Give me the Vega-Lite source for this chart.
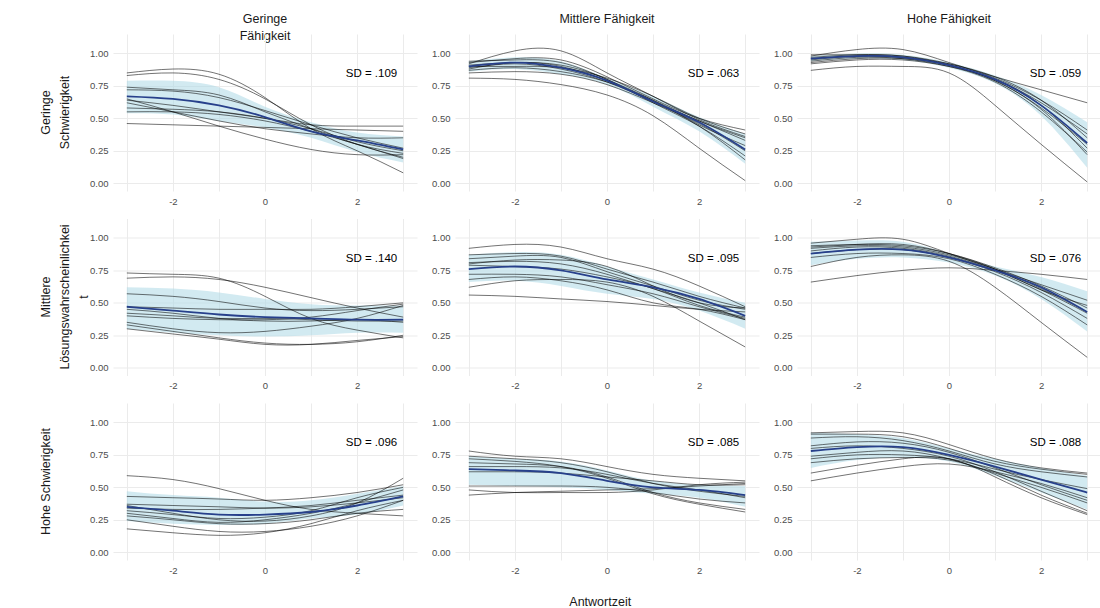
{
  "$schema": "https://vega.github.io/schema/vega-lite/v6.json",
  "background": "white",
  "padding": {"left": 39, "top": 12, "right": 0, "bottom": 0},
  "config": {
    "font": "Liberation Sans",
    "view": {"stroke": null},
    "axis": {"grid": true, "gridColor": "#ebebeb", "gridWidth": 1, "ticks": false, "domain": false, "labelColor": "#4d4d4d", "labelFontSize": 9.5, "labelFont": "Liberation Sans", "labelPadding": 5}
  },
  "data": {"values": [
    {"r":"1","c":"1","k":"curve","id":1,"x":[-3,-2,-1,0,1,2,3],"y":[0.85,0.88,0.84,0.66,0.42,0.25,0.08]},
    {"r":"1","c":"1","k":"curve","id":2,"x":[-3,-2,-1,0,1,2,3],"y":[0.83,0.85,0.80,0.65,0.45,0.30,0.20]},
    {"r":"1","c":"1","k":"curve","id":3,"x":[-3,-2,-1,0,1,2,3],"y":[0.74,0.72,0.68,0.55,0.42,0.30,0.23]},
    {"r":"1","c":"1","k":"curve","id":4,"x":[-3,-2,-1,0,1,2,3],"y":[0.72,0.71,0.66,0.56,0.45,0.35,0.27]},
    {"r":"1","c":"1","k":"curve","id":5,"x":[-3,-2,-1,0,1,2,3],"y":[0.64,0.60,0.55,0.50,0.45,0.44,0.44]},
    {"r":"1","c":"1","k":"curve","id":6,"x":[-3,-2,-1,0,1,2,3],"y":[0.62,0.55,0.48,0.42,0.38,0.35,0.35]},
    {"r":"1","c":"1","k":"curve","id":7,"x":[-3,-2,-1,0,1,2,3],"y":[0.58,0.57,0.55,0.50,0.42,0.32,0.25]},
    {"r":"1","c":"1","k":"curve","id":8,"x":[-3,-2,-1,0,1,2,3],"y":[0.55,0.55,0.53,0.48,0.40,0.30,0.19]},
    {"r":"1","c":"1","k":"curve","id":9,"x":[-3,-2,-1,0,1,2,3],"y":[0.46,0.45,0.44,0.43,0.42,0.41,0.40]},
    {"r":"1","c":"1","k":"curve","id":10,"x":[-3,-2,-1,0,1,2,3],"y":[0.65,0.55,0.44,0.34,0.26,0.22,0.22]},
    {"r":"1","c":"1","k":"band","x":[-3,-2,-1,0,1,2,3],"m":[0.67,0.65,0.60,0.51,0.40,0.33,0.26],"lo":[0.54,0.53,0.48,0.43,0.35,0.24,0.16],"hi":[0.79,0.79,0.74,0.59,0.47,0.39,0.36]},
    {"r":"1","c":"1","k":"sd","label":"SD = .109"},

    {"r":"1","c":"2","k":"curve","id":1,"x":[-3,-2,-1,0,1,2,3],"y":[0.92,1.02,1.02,0.85,0.67,0.49,0.36]},
    {"r":"1","c":"2","k":"curve","id":2,"x":[-3,-2,-1,0,1,2,3],"y":[0.81,0.80,0.76,0.68,0.52,0.27,0.02]},
    {"r":"1","c":"2","k":"curve","id":3,"x":[-3,-2,-1,0,1,2,3],"y":[0.93,0.96,0.95,0.82,0.65,0.50,0.41]},
    {"r":"1","c":"2","k":"curve","id":4,"x":[-3,-2,-1,0,1,2,3],"y":[0.94,0.95,0.93,0.80,0.64,0.45,0.29]},
    {"r":"1","c":"2","k":"curve","id":5,"x":[-3,-2,-1,0,1,2,3],"y":[0.91,0.93,0.91,0.80,0.62,0.44,0.21]},
    {"r":"1","c":"2","k":"curve","id":6,"x":[-3,-2,-1,0,1,2,3],"y":[0.89,0.92,0.88,0.78,0.63,0.48,0.33]},
    {"r":"1","c":"2","k":"curve","id":7,"x":[-3,-2,-1,0,1,2,3],"y":[0.87,0.89,0.86,0.78,0.64,0.48,0.35]},
    {"r":"1","c":"2","k":"curve","id":8,"x":[-3,-2,-1,0,1,2,3],"y":[0.85,0.86,0.84,0.76,0.62,0.46,0.25]},
    {"r":"1","c":"2","k":"curve","id":9,"x":[-3,-2,-1,0,1,2,3],"y":[0.90,0.90,0.89,0.81,0.67,0.50,0.38]},
    {"r":"1","c":"2","k":"curve","id":10,"x":[-3,-2,-1,0,1,2,3],"y":[0.88,0.93,0.90,0.79,0.63,0.44,0.18]},
    {"r":"1","c":"2","k":"band","x":[-3,-2,-1,0,1,2,3],"m":[0.90,0.93,0.89,0.79,0.63,0.47,0.26],"lo":[0.86,0.88,0.84,0.76,0.59,0.40,0.15],"hi":[0.94,0.97,0.94,0.81,0.67,0.51,0.38]},
    {"r":"1","c":"2","k":"sd","label":"SD = .063"},

    {"r":"1","c":"3","k":"curve","id":1,"x":[-3,-2,-1,0,1,2,3],"y":[0.87,0.90,0.90,0.85,0.60,0.30,0.01]},
    {"r":"1","c":"3","k":"curve","id":2,"x":[-3,-2,-1,0,1,2,3],"y":[0.98,1.03,1.03,0.93,0.82,0.72,0.62]},
    {"r":"1","c":"3","k":"curve","id":3,"x":[-3,-2,-1,0,1,2,3],"y":[0.99,0.99,0.98,0.92,0.81,0.64,0.41]},
    {"r":"1","c":"3","k":"curve","id":4,"x":[-3,-2,-1,0,1,2,3],"y":[0.97,0.99,0.98,0.91,0.80,0.62,0.38]},
    {"r":"1","c":"3","k":"curve","id":5,"x":[-3,-2,-1,0,1,2,3],"y":[0.95,0.98,0.97,0.91,0.79,0.58,0.30]},
    {"r":"1","c":"3","k":"curve","id":6,"x":[-3,-2,-1,0,1,2,3],"y":[0.94,0.97,0.96,0.90,0.78,0.55,0.24]},
    {"r":"1","c":"3","k":"curve","id":7,"x":[-3,-2,-1,0,1,2,3],"y":[0.93,0.96,0.96,0.91,0.79,0.57,0.22]},
    {"r":"1","c":"3","k":"curve","id":8,"x":[-3,-2,-1,0,1,2,3],"y":[0.96,0.98,0.97,0.92,0.82,0.64,0.35]},
    {"r":"1","c":"3","k":"curve","id":9,"x":[-3,-2,-1,0,1,2,3],"y":[0.92,0.95,0.95,0.90,0.80,0.60,0.27]},
    {"r":"1","c":"3","k":"band","x":[-3,-2,-1,0,1,2,3],"m":[0.96,0.98,0.97,0.91,0.80,0.60,0.31],"lo":[0.94,0.96,0.95,0.89,0.77,0.52,0.12],"hi":[0.98,1.00,0.99,0.93,0.83,0.68,0.47]},
    {"r":"1","c":"3","k":"sd","label":"SD = .059"},

    {"r":"2","c":"1","k":"curve","id":1,"x":[-3,-2,-1,0,1,2,3],"y":[0.73,0.72,0.69,0.55,0.38,0.29,0.23]},
    {"r":"2","c":"1","k":"curve","id":2,"x":[-3,-2,-1,0,1,2,3],"y":[0.69,0.70,0.68,0.62,0.54,0.46,0.39]},
    {"r":"2","c":"1","k":"curve","id":3,"x":[-3,-2,-1,0,1,2,3],"y":[0.57,0.55,0.51,0.46,0.44,0.45,0.47]},
    {"r":"2","c":"1","k":"curve","id":4,"x":[-3,-2,-1,0,1,2,3],"y":[0.47,0.46,0.45,0.45,0.45,0.47,0.50]},
    {"r":"2","c":"1","k":"curve","id":5,"x":[-3,-2,-1,0,1,2,3],"y":[0.40,0.38,0.37,0.37,0.39,0.44,0.49]},
    {"r":"2","c":"1","k":"curve","id":6,"x":[-3,-2,-1,0,1,2,3],"y":[0.35,0.30,0.27,0.28,0.32,0.38,0.48]},
    {"r":"2","c":"1","k":"curve","id":7,"x":[-3,-2,-1,0,1,2,3],"y":[0.33,0.28,0.23,0.19,0.18,0.20,0.25]},
    {"r":"2","c":"1","k":"curve","id":8,"x":[-3,-2,-1,0,1,2,3],"y":[0.30,0.26,0.22,0.18,0.18,0.21,0.24]},
    {"r":"2","c":"1","k":"curve","id":9,"x":[-3,-2,-1,0,1,2,3],"y":[0.45,0.42,0.38,0.36,0.36,0.37,0.35]},
    {"r":"2","c":"1","k":"curve","id":10,"x":[-3,-2,-1,0,1,2,3],"y":[0.42,0.40,0.38,0.38,0.37,0.36,0.36]},
    {"r":"2","c":"1","k":"band","x":[-3,-2,-1,0,1,2,3],"m":[0.47,0.44,0.41,0.39,0.38,0.37,0.37],"lo":[0.30,0.27,0.25,0.24,0.25,0.27,0.27],"hi":[0.62,0.61,0.58,0.53,0.49,0.48,0.48]},
    {"r":"2","c":"1","k":"sd","label":"SD = .140"},

    {"r":"2","c":"2","k":"curve","id":1,"x":[-3,-2,-1,0,1,2,3],"y":[0.92,0.95,0.93,0.84,0.76,0.63,0.47]},
    {"r":"2","c":"2","k":"curve","id":2,"x":[-3,-2,-1,0,1,2,3],"y":[0.56,0.55,0.53,0.51,0.48,0.45,0.43]},
    {"r":"2","c":"2","k":"curve","id":3,"x":[-3,-2,-1,0,1,2,3],"y":[0.62,0.67,0.68,0.66,0.55,0.36,0.16]},
    {"r":"2","c":"2","k":"curve","id":4,"x":[-3,-2,-1,0,1,2,3],"y":[0.68,0.70,0.67,0.60,0.50,0.45,0.37]},
    {"r":"2","c":"2","k":"curve","id":5,"x":[-3,-2,-1,0,1,2,3],"y":[0.87,0.88,0.86,0.76,0.66,0.55,0.46]},
    {"r":"2","c":"2","k":"curve","id":6,"x":[-3,-2,-1,0,1,2,3],"y":[0.84,0.86,0.85,0.74,0.63,0.52,0.45]},
    {"r":"2","c":"2","k":"curve","id":7,"x":[-3,-2,-1,0,1,2,3],"y":[0.81,0.82,0.80,0.72,0.61,0.50,0.37]},
    {"r":"2","c":"2","k":"curve","id":8,"x":[-3,-2,-1,0,1,2,3],"y":[0.79,0.78,0.76,0.70,0.61,0.48,0.39]},
    {"r":"2","c":"2","k":"curve","id":9,"x":[-3,-2,-1,0,1,2,3],"y":[0.72,0.72,0.70,0.64,0.57,0.47,0.38]},
    {"r":"2","c":"2","k":"curve","id":10,"x":[-3,-2,-1,0,1,2,3],"y":[0.80,0.83,0.83,0.78,0.63,0.50,0.46]},
    {"r":"2","c":"2","k":"band","x":[-3,-2,-1,0,1,2,3],"m":[0.76,0.78,0.75,0.68,0.62,0.53,0.40],"lo":[0.66,0.67,0.63,0.57,0.53,0.44,0.30],"hi":[0.87,0.89,0.87,0.78,0.68,0.58,0.50]},
    {"r":"2","c":"2","k":"sd","label":"SD = .095"},

    {"r":"2","c":"3","k":"curve","id":1,"x":[-3,-2,-1,0,1,2,3],"y":[0.66,0.71,0.75,0.77,0.75,0.72,0.68]},
    {"r":"2","c":"3","k":"curve","id":2,"x":[-3,-2,-1,0,1,2,3],"y":[0.78,0.85,0.87,0.82,0.62,0.35,0.08]},
    {"r":"2","c":"3","k":"curve","id":3,"x":[-3,-2,-1,0,1,2,3],"y":[0.96,0.99,0.99,0.88,0.76,0.64,0.52]},
    {"r":"2","c":"3","k":"curve","id":4,"x":[-3,-2,-1,0,1,2,3],"y":[0.94,0.95,0.94,0.88,0.77,0.63,0.46]},
    {"r":"2","c":"3","k":"curve","id":5,"x":[-3,-2,-1,0,1,2,3],"y":[0.92,0.94,0.93,0.87,0.76,0.61,0.43]},
    {"r":"2","c":"3","k":"curve","id":6,"x":[-3,-2,-1,0,1,2,3],"y":[0.90,0.93,0.92,0.86,0.75,0.60,0.42]},
    {"r":"2","c":"3","k":"curve","id":7,"x":[-3,-2,-1,0,1,2,3],"y":[0.85,0.88,0.88,0.84,0.72,0.55,0.33]},
    {"r":"2","c":"3","k":"curve","id":8,"x":[-3,-2,-1,0,1,2,3],"y":[0.93,0.95,0.95,0.88,0.76,0.60,0.48]},
    {"r":"2","c":"3","k":"curve","id":9,"x":[-3,-2,-1,0,1,2,3],"y":[0.88,0.91,0.91,0.85,0.74,0.58,0.38]},
    {"r":"2","c":"3","k":"band","x":[-3,-2,-1,0,1,2,3],"m":[0.88,0.91,0.91,0.85,0.75,0.62,0.43],"lo":[0.79,0.84,0.85,0.81,0.71,0.53,0.28],"hi":[0.97,0.98,0.97,0.88,0.78,0.70,0.59]},
    {"r":"2","c":"3","k":"sd","label":"SD = .076"},

    {"r":"3","c":"1","k":"curve","id":1,"x":[-3,-2,-1,0,1,2,3],"y":[0.59,0.56,0.49,0.40,0.33,0.30,0.28]},
    {"r":"3","c":"1","k":"curve","id":2,"x":[-3,-2,-1,0,1,2,3],"y":[0.18,0.15,0.13,0.15,0.22,0.32,0.40]},
    {"r":"3","c":"1","k":"curve","id":3,"x":[-3,-2,-1,0,1,2,3],"y":[0.25,0.20,0.16,0.16,0.20,0.28,0.40]},
    {"r":"3","c":"1","k":"curve","id":4,"x":[-3,-2,-1,0,1,2,3],"y":[0.43,0.42,0.41,0.40,0.42,0.46,0.52]},
    {"r":"3","c":"1","k":"curve","id":5,"x":[-3,-2,-1,0,1,2,3],"y":[0.37,0.36,0.35,0.34,0.35,0.38,0.42]},
    {"r":"3","c":"1","k":"curve","id":6,"x":[-3,-2,-1,0,1,2,3],"y":[0.36,0.30,0.25,0.24,0.28,0.38,0.57]},
    {"r":"3","c":"1","k":"curve","id":7,"x":[-3,-2,-1,0,1,2,3],"y":[0.30,0.26,0.23,0.25,0.30,0.38,0.48]},
    {"r":"3","c":"1","k":"curve","id":8,"x":[-3,-2,-1,0,1,2,3],"y":[0.28,0.25,0.22,0.22,0.25,0.30,0.33]},
    {"r":"3","c":"1","k":"curve","id":9,"x":[-3,-2,-1,0,1,2,3],"y":[0.32,0.29,0.26,0.27,0.32,0.42,0.50]},
    {"r":"3","c":"1","k":"curve","id":10,"x":[-3,-2,-1,0,1,2,3],"y":[0.34,0.33,0.33,0.34,0.36,0.40,0.44]},
    {"r":"3","c":"1","k":"band","x":[-3,-2,-1,0,1,2,3],"m":[0.35,0.32,0.29,0.29,0.31,0.36,0.43],"lo":[0.24,0.22,0.21,0.22,0.26,0.29,0.36],"hi":[0.47,0.44,0.42,0.39,0.40,0.45,0.51]},
    {"r":"3","c":"1","k":"sd","label":"SD = .096"},

    {"r":"3","c":"2","k":"curve","id":1,"x":[-3,-2,-1,0,1,2,3],"y":[0.78,0.74,0.72,0.66,0.60,0.57,0.55]},
    {"r":"3","c":"2","k":"curve","id":2,"x":[-3,-2,-1,0,1,2,3],"y":[0.44,0.46,0.47,0.48,0.49,0.51,0.53]},
    {"r":"3","c":"2","k":"curve","id":3,"x":[-3,-2,-1,0,1,2,3],"y":[0.48,0.46,0.46,0.46,0.48,0.52,0.54]},
    {"r":"3","c":"2","k":"curve","id":4,"x":[-3,-2,-1,0,1,2,3],"y":[0.51,0.51,0.51,0.50,0.46,0.41,0.38]},
    {"r":"3","c":"2","k":"curve","id":5,"x":[-3,-2,-1,0,1,2,3],"y":[0.72,0.70,0.66,0.57,0.45,0.37,0.31]},
    {"r":"3","c":"2","k":"curve","id":6,"x":[-3,-2,-1,0,1,2,3],"y":[0.69,0.68,0.66,0.58,0.46,0.38,0.33]},
    {"r":"3","c":"2","k":"curve","id":7,"x":[-3,-2,-1,0,1,2,3],"y":[0.74,0.72,0.69,0.62,0.53,0.47,0.43]},
    {"r":"3","c":"2","k":"curve","id":8,"x":[-3,-2,-1,0,1,2,3],"y":[0.66,0.66,0.65,0.60,0.53,0.48,0.42]},
    {"r":"3","c":"2","k":"curve","id":9,"x":[-3,-2,-1,0,1,2,3],"y":[0.62,0.62,0.61,0.58,0.55,0.52,0.52]},
    {"r":"3","c":"2","k":"band","x":[-3,-2,-1,0,1,2,3],"m":[0.64,0.63,0.61,0.55,0.50,0.48,0.44],"lo":[0.52,0.51,0.50,0.48,0.45,0.42,0.35],"hi":[0.74,0.72,0.70,0.63,0.55,0.52,0.51]},
    {"r":"3","c":"2","k":"sd","label":"SD = .085"},

    {"r":"3","c":"3","k":"curve","id":1,"x":[-3,-2,-1,0,1,2,3],"y":[0.55,0.61,0.66,0.68,0.62,0.53,0.42]},
    {"r":"3","c":"3","k":"curve","id":2,"x":[-3,-2,-1,0,1,2,3],"y":[0.61,0.67,0.72,0.72,0.58,0.42,0.29]},
    {"r":"3","c":"3","k":"curve","id":3,"x":[-3,-2,-1,0,1,2,3],"y":[0.92,0.93,0.92,0.83,0.72,0.65,0.61]},
    {"r":"3","c":"3","k":"curve","id":4,"x":[-3,-2,-1,0,1,2,3],"y":[0.91,0.91,0.89,0.80,0.70,0.64,0.60]},
    {"r":"3","c":"3","k":"curve","id":5,"x":[-3,-2,-1,0,1,2,3],"y":[0.88,0.89,0.86,0.78,0.68,0.62,0.58]},
    {"r":"3","c":"3","k":"curve","id":6,"x":[-3,-2,-1,0,1,2,3],"y":[0.82,0.85,0.84,0.77,0.65,0.52,0.40]},
    {"r":"3","c":"3","k":"curve","id":7,"x":[-3,-2,-1,0,1,2,3],"y":[0.80,0.82,0.80,0.74,0.62,0.47,0.32]},
    {"r":"3","c":"3","k":"curve","id":8,"x":[-3,-2,-1,0,1,2,3],"y":[0.74,0.77,0.78,0.72,0.61,0.50,0.38]},
    {"r":"3","c":"3","k":"curve","id":9,"x":[-3,-2,-1,0,1,2,3],"y":[0.72,0.75,0.75,0.72,0.64,0.56,0.49]},
    {"r":"3","c":"3","k":"curve","id":10,"x":[-3,-2,-1,0,1,2,3],"y":[0.69,0.72,0.73,0.71,0.60,0.44,0.30]},
    {"r":"3","c":"3","k":"band","x":[-3,-2,-1,0,1,2,3],"m":[0.78,0.81,0.81,0.75,0.66,0.56,0.46],"lo":[0.65,0.71,0.73,0.70,0.59,0.46,0.33],"hi":[0.92,0.91,0.88,0.80,0.72,0.65,0.59]},
    {"r":"3","c":"3","k":"sd","label":"SD = .088"}
  ]},
  "title": {"text": "Antwortzeit", "orient": "bottom", "anchor": "middle", "fontSize": 12.5, "fontWeight": "normal", "color": "#1a1a1a", "font": "Liberation Sans", "offset": 21, "dx": 30},
  "facet": {
    "row": {"field": "r", "type": "nominal", "title": null,
      "header": {"labelAngle": -90, "labelOrient": "left", "labelFontSize": 12.5, "labelColor": "#1a1a1a", "labelFont": "Liberation Sans", "labelPadding": 17, "labelLineHeight": 19,
        "labelExpr": "datum.value == '1' ? ['Geringe', 'Schwierigkeit', ''] : datum.value == '2' ? ['Mittlere', 'Lösungswahrscheinlichkei', 't'] : ['Hohe Schwierigkeit', '', '']"}},
    "column": {"field": "c", "type": "nominal", "title": null,
      "header": {"labelFontSize": 12.5, "labelColor": "#1a1a1a", "labelFont": "Liberation Sans", "labelPadding": -8, "labelLineHeight": 17,
        "labelExpr": "datum.value == '1' ? ['Geringe', 'Fähigkeit'] : datum.value == '2' ? ['Mittlere Fähigkeit', ''] : ['Hohe Fähigkeit', '']"}}
  },
  "spacing": {"row": 27.5, "column": 38},
  "bounds": "flush",
  "resolve": {"axis": {"x": "independent", "y": "independent"}},
  "spec": {
    "width": 304,
    "height": 157,
    "layer": [
      {
        "transform": [{"filter": "datum.k == 'band'"}, {"flatten": ["x", "m", "lo", "hi"]}],
        "mark": {"type": "area", "interpolate": "natural", "color": "#add8e6", "opacity": 0.55},
        "encoding": {
          "x": {"field": "x", "type": "quantitative", "title": null, "scale": {"domain": [-3.3, 3.3], "nice": false, "zero": false},
            "axis": {"values": [-3, -2, -1, 0, 1, 2, 3], "labelExpr": "datum.value % 2 == 0 ? '' + datum.value : ''"}},
          "y": {"field": "lo", "type": "quantitative", "title": null, "scale": {"domain": [-0.06, 1.15], "nice": false, "zero": false},
            "axis": {"values": [0, 0.25, 0.5, 0.75, 1], "format": ".2f", "labelOverlap": false}},
          "y2": {"field": "hi"}
        }
      },
      {
        "transform": [{"filter": "datum.k == 'curve'"}, {"flatten": ["x", "y"]}],
        "mark": {"type": "line", "interpolate": "natural", "color": "black", "strokeWidth": 0.65, "opacity": 0.85},
        "encoding": {
          "x": {"field": "x", "type": "quantitative", "title": null,
            "axis": {"values": [-3, -2, -1, 0, 1, 2, 3], "labelExpr": "datum.value % 2 == 0 ? '' + datum.value : ''"}},
          "y": {"field": "y", "type": "quantitative", "title": null,
            "axis": {"values": [0, 0.25, 0.5, 0.75, 1], "format": ".2f", "labelOverlap": false}},
          "detail": {"field": "id", "type": "nominal"}
        }
      },
      {
        "transform": [{"filter": "datum.k == 'band'"}, {"flatten": ["x", "m"]}],
        "mark": {"type": "line", "interpolate": "natural", "color": "#27408b", "strokeWidth": 1.8},
        "encoding": {
          "x": {"field": "x", "type": "quantitative", "title": null,
            "axis": {"values": [-3, -2, -1, 0, 1, 2, 3], "labelExpr": "datum.value % 2 == 0 ? '' + datum.value : ''"}},
          "y": {"field": "m", "type": "quantitative", "title": null,
            "axis": {"values": [0, 0.25, 0.5, 0.75, 1], "format": ".2f", "labelOverlap": false}}
        }
      },
      {
        "transform": [{"filter": "datum.k == 'sd'"}],
        "mark": {"type": "text", "align": "right", "baseline": "middle", "fontSize": 11.5, "color": "black", "font": "Liberation Sans"},
        "encoding": {
          "x": {"datum": 2.87, "type": "quantitative", "title": null,
            "axis": {"values": [-3, -2, -1, 0, 1, 2, 3], "labelExpr": "datum.value % 2 == 0 ? '' + datum.value : ''"}},
          "y": {"datum": 0.84, "type": "quantitative", "title": null,
            "axis": {"values": [0, 0.25, 0.5, 0.75, 1], "format": ".2f", "labelOverlap": false}},
          "text": {"field": "label"}
        }
      }
    ]
  }
}
